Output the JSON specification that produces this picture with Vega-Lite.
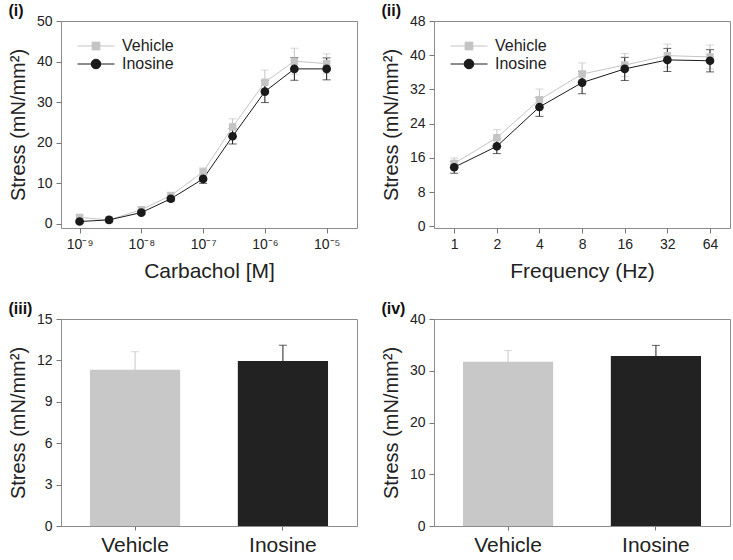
{
  "$schema": "https://vega.github.io/schema/vega-lite/v6.json",
  "padding": {"left": 7, "top": 2, "right": 0, "bottom": 0},
  "background": "white",
  "datasets": {
    "carb": [
      {"conc": 1e-9, "group": "Vehicle", "mean": 1.6, "sem": 0.5},
      {"conc": 3e-9, "group": "Vehicle", "mean": 1.0, "sem": 0.3},
      {"conc": 1e-8, "group": "Vehicle", "mean": 3.5, "sem": 0.5},
      {"conc": 3e-8, "group": "Vehicle", "mean": 7.0, "sem": 0.6},
      {"conc": 1e-7, "group": "Vehicle", "mean": 12.8, "sem": 1.0},
      {"conc": 3e-7, "group": "Vehicle", "mean": 23.9, "sem": 2.0},
      {"conc": 1e-6, "group": "Vehicle", "mean": 34.9, "sem": 3.0},
      {"conc": 3e-6, "group": "Vehicle", "mean": 40.1, "sem": 3.2},
      {"conc": 1e-5, "group": "Vehicle", "mean": 39.5, "sem": 2.4},
      {"conc": 1e-9, "group": "Inosine", "mean": 0.6, "sem": 0.3},
      {"conc": 3e-9, "group": "Inosine", "mean": 1.0, "sem": 0.3},
      {"conc": 1e-8, "group": "Inosine", "mean": 2.8, "sem": 0.5},
      {"conc": 3e-8, "group": "Inosine", "mean": 6.2, "sem": 0.6},
      {"conc": 1e-7, "group": "Inosine", "mean": 11.1, "sem": 1.1},
      {"conc": 3e-7, "group": "Inosine", "mean": 21.6, "sem": 1.9},
      {"conc": 1e-6, "group": "Inosine", "mean": 32.6, "sem": 2.7},
      {"conc": 3e-6, "group": "Inosine", "mean": 38.2, "sem": 2.8},
      {"conc": 1e-5, "group": "Inosine", "mean": 38.2, "sem": 2.7}
    ],
    "freq": [
      {"hz": 1, "group": "Vehicle", "mean": 14.7, "sem": 1.3},
      {"hz": 2, "group": "Vehicle", "mean": 20.7, "sem": 1.9},
      {"hz": 4, "group": "Vehicle", "mean": 29.6, "sem": 2.5},
      {"hz": 8, "group": "Vehicle", "mean": 35.6, "sem": 2.6},
      {"hz": 16, "group": "Vehicle", "mean": 37.7, "sem": 2.7},
      {"hz": 32, "group": "Vehicle", "mean": 39.9, "sem": 2.7},
      {"hz": 64, "group": "Vehicle", "mean": 39.6, "sem": 2.8},
      {"hz": 1, "group": "Inosine", "mean": 13.8, "sem": 1.4},
      {"hz": 2, "group": "Inosine", "mean": 18.7, "sem": 1.7},
      {"hz": 4, "group": "Inosine", "mean": 27.9, "sem": 2.2},
      {"hz": 8, "group": "Inosine", "mean": 33.6, "sem": 2.6},
      {"hz": 16, "group": "Inosine", "mean": 36.8, "sem": 2.7},
      {"hz": 32, "group": "Inosine", "mean": 38.9, "sem": 2.7},
      {"hz": 64, "group": "Inosine", "mean": 38.7, "sem": 2.6}
    ],
    "bar3": [
      {"group": "Vehicle", "mean": 11.33, "sem": 1.3},
      {"group": "Inosine", "mean": 11.96, "sem": 1.14}
    ],
    "bar4": [
      {"group": "Vehicle", "mean": 31.75, "sem": 2.15},
      {"group": "Inosine", "mean": 32.85, "sem": 2.05}
    ]
  },
  "vconcat": [
    {
      "spacing": 22,
      "resolve": {
        "scale": {"color": "independent", "shape": "independent", "stroke": "independent"},
        "legend": {"color": "independent", "shape": "independent", "stroke": "independent"}
      },
      "hconcat": [
        {
          "width": 296,
          "height": 207,
          "title": {"text": "(i)"},
          "data": {"name": "carb"},
          "encoding": {
            "x": {
              "field": "conc", "type": "quantitative",
              "scale": {"type": "log", "domain": [5e-10, 3.1e-5], "nice": false},
              "axis": {
                "values": [1e-9, 1e-8, 1e-7, 1e-6, 1e-5],
                "labelExpr": "datum.value < 5e-9 ? '10⁻⁹' : datum.value < 5e-8 ? '10⁻⁸' : datum.value < 5e-7 ? '10⁻⁷' : datum.value < 5e-6 ? '10⁻⁶' : '10⁻⁵'",
                "title": "Carbachol [M]",
                "labelFontSize": 14,
                "titleFontSize": 21,
                "titlePadding": 9
              }
            },
            "y": {
              "field": "mean", "type": "quantitative",
              "scale": {"domain": [-1, 50], "nice": false, "zero": false},
              "axis": {"values": [0, 10, 20, 30, 40, 50], "title": "Stress (mN/mm²)"}
            },
            "color": {
              "field": "group", "type": "nominal",
              "scale": {"domain": ["Vehicle", "Inosine"], "range": ["#c4c4c4", "#1a1a1a"]},
              "legend": {"title": null}
            }
          },
          "layer": [
            {"mark": {"type": "errorbar", "ticks": true, "size": 8, "thickness": 1}, "encoding": {"yError": {"field": "sem"}}},
            {"mark": {"type": "line", "strokeWidth": 1}, "encoding": {}},
            {"transform": [{"filter": "datum.group === 'Vehicle'"}], "mark": {"type": "point", "shape": "square", "filled": true, "size": 56, "opacity": 1}, "encoding": {}},
            {"transform": [{"filter": "datum.group === 'Inosine'"}], "mark": {"type": "point", "shape": "circle", "filled": true, "size": 75, "opacity": 1}, "encoding": {}},
            {
              "mark": {"type": "point", "filled": true, "opacity": 0},
              "encoding": {
                "shape": {
                  "field": "group", "type": "nominal",
                  "scale": {"domain": ["Vehicle", "Inosine"], "range": ["M-1,0H1M-0.21,-0.21H0.21V0.21H-0.21Z", "M-1,0H1M0.26,0A0.26,0.26,0,1,1,-0.26,0A0.26,0.26,0,1,1,0.26,0Z"]},
                  "legend": {"title": null}
                },
                "stroke": {
                  "field": "group", "type": "nominal",
                  "scale": {"domain": ["Vehicle", "Inosine"], "range": ["#c4c4c4", "#1a1a1a"]},
                  "legend": {"title": null}
                }
              }
            }
          ]
        },
        {
          "width": 296,
          "height": 207,
          "title": {"text": "(ii)"},
          "data": {"name": "freq"},
          "encoding": {
            "x": {
              "field": "hz", "type": "quantitative",
              "scale": {"type": "log", "base": 2, "domain": [0.72, 88.6], "nice": false},
              "axis": {
                "values": [1, 2, 4, 8, 16, 32, 64],
                "format": "d",
                "title": "Frequency (Hz)",
                "labelFontSize": 14,
                "titleFontSize": 21,
                "titlePadding": 9
              }
            },
            "y": {
              "field": "mean", "type": "quantitative",
              "scale": {"domain": [-0.4, 48], "nice": false, "zero": false},
              "axis": {"values": [0, 8, 16, 24, 32, 40, 48], "title": "Stress (mN/mm²)"}
            },
            "color": {
              "field": "group", "type": "nominal",
              "scale": {"domain": ["Vehicle", "Inosine"], "range": ["#c4c4c4", "#1a1a1a"]},
              "legend": {"title": null}
            }
          },
          "layer": [
            {"mark": {"type": "errorbar", "ticks": true, "size": 8, "thickness": 1}, "encoding": {"yError": {"field": "sem"}}},
            {"mark": {"type": "line", "strokeWidth": 1}, "encoding": {}},
            {"transform": [{"filter": "datum.group === 'Vehicle'"}], "mark": {"type": "point", "shape": "square", "filled": true, "size": 56, "opacity": 1}, "encoding": {}},
            {"transform": [{"filter": "datum.group === 'Inosine'"}], "mark": {"type": "point", "shape": "circle", "filled": true, "size": 75, "opacity": 1}, "encoding": {}},
            {
              "mark": {"type": "point", "filled": true, "opacity": 0},
              "encoding": {
                "shape": {
                  "field": "group", "type": "nominal",
                  "scale": {"domain": ["Vehicle", "Inosine"], "range": ["M-1,0H1M-0.21,-0.21H0.21V0.21H-0.21Z", "M-1,0H1M0.26,0A0.26,0.26,0,1,1,-0.26,0A0.26,0.26,0,1,1,0.26,0Z"]},
                  "legend": {"title": null}
                },
                "stroke": {
                  "field": "group", "type": "nominal",
                  "scale": {"domain": ["Vehicle", "Inosine"], "range": ["#c4c4c4", "#1a1a1a"]},
                  "legend": {"title": null}
                }
              }
            }
          ]
        }
      ]
    },
    {
      "spacing": 22,
      "resolve": {
        "scale": {"color": "independent"},
        "legend": {"color": "independent"}
      },
      "hconcat": [
        {
          "width": 296,
          "height": 207,
          "title": {"text": "(iii)"},
          "data": {"name": "bar3"},
          "encoding": {
            "x": {
              "field": "group", "type": "nominal", "sort": ["Vehicle", "Inosine"],
              "scale": {"paddingInner": 0.39, "paddingOuter": 0.196},
              "axis": {"title": null, "labelAngle": 0, "labelFontSize": 21, "tickSize": 4, "labelPadding": 4}
            },
            "y": {
              "field": "mean", "type": "quantitative",
              "scale": {"domain": [0, 15], "nice": false},
              "axis": {"values": [0, 3, 6, 9, 12, 15], "title": "Stress (mN/mm²)"}
            },
            "color": {
              "field": "group", "type": "nominal",
              "scale": {"domain": ["Vehicle", "Inosine"], "range": ["#c8c8c8", "#222222"]},
              "legend": null
            }
          },
          "layer": [
            {"mark": {"type": "errorbar", "ticks": true, "size": 8, "thickness": 1}, "encoding": {"yError": {"field": "sem"}}},
            {"mark": {"type": "bar"}, "encoding": {}}
          ]
        },
        {
          "width": 296,
          "height": 207,
          "title": {"text": "(iv)"},
          "data": {"name": "bar4"},
          "encoding": {
            "x": {
              "field": "group", "type": "nominal", "sort": ["Vehicle", "Inosine"],
              "scale": {"paddingInner": 0.39, "paddingOuter": 0.196},
              "axis": {"title": null, "labelAngle": 0, "labelFontSize": 21, "tickSize": 4, "labelPadding": 4}
            },
            "y": {
              "field": "mean", "type": "quantitative",
              "scale": {"domain": [0, 40], "nice": false},
              "axis": {"values": [0, 10, 20, 30, 40], "title": "Stress (mN/mm²)"}
            },
            "color": {
              "field": "group", "type": "nominal",
              "scale": {"domain": ["Vehicle", "Inosine"], "range": ["#c8c8c8", "#222222"]},
              "legend": null
            }
          },
          "layer": [
            {"mark": {"type": "errorbar", "ticks": true, "size": 8, "thickness": 1}, "encoding": {"yError": {"field": "sem"}}},
            {"mark": {"type": "bar"}, "encoding": {}}
          ]
        }
      ]
    }
  ],
  "spacing": 18,
  "resolve": {
    "scale": {"color": "independent", "shape": "independent", "stroke": "independent"},
    "legend": {"color": "independent", "shape": "independent", "stroke": "independent"}
  },
  "config": {
    "font": "Liberation Sans",
    "view": {"stroke": "#8c8c8c", "strokeWidth": 1},
    "axis": {
      "domain": false, "grid": false, "ticks": true, "tickColor": "#777777", "tickSize": 5,
      "labelColor": "#222222", "titleColor": "#222222", "labelFontSize": 14, "titleFontSize": 20,
      "titleFontWeight": "normal", "labelPadding": 4, "titlePadding": 8
    },
    "title": {"anchor": "start", "fontSize": 16, "fontWeight": "bold", "color": "#111111", "offset": -5, "frame": "bounds"},
    "legend": {
      "orient": "top-left", "offset": 16, "padding": 0, "symbolSize": 1369, "clipHeight": 18,
      "rowPadding": 0, "labelFontSize": 16, "labelColor": "#222222", "labelOffset": 7,
      "symbolStrokeWidth": 1, "symbolOpacity": 1
    }
  }
}
